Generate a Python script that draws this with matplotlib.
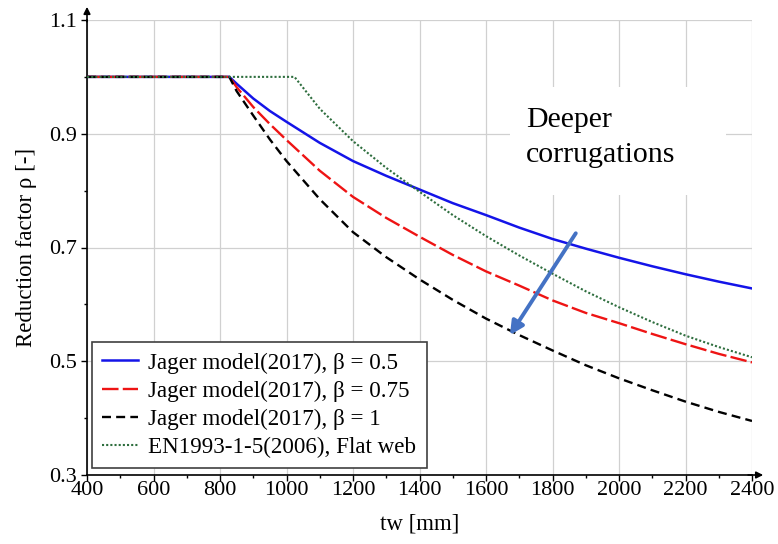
import matplotlib
matplotlib.use("Agg")
import matplotlib.pyplot as plt
from matplotlib.patches import Rectangle
from matplotlib.ticker import MultipleLocator

plt.rcParams['font.family'] = ['Liberation Serif', 'DejaVu Serif']
plt.rcParams['mathtext.fontset'] = 'stix'

# Web thickness tw [mm] and reduction factor rho for each model
tw_jager = [400, 828, 850, 900, 950, 1000, 1100, 1200, 1300, 1400, 1500, 1600,
            1700, 1800, 1900, 2000, 2100, 2200, 2300, 2400]
rho_b050 = [1.000, 1.000, 0.988, 0.962, 0.940, 0.921, 0.884, 0.852, 0.826, 0.802,
            0.778, 0.757, 0.735, 0.715, 0.698, 0.682, 0.667, 0.653, 0.640, 0.628]
rho_b075 = [1.000, 1.000, 0.982, 0.947, 0.917, 0.889, 0.835, 0.789, 0.752, 0.719,
            0.687, 0.658, 0.633, 0.607, 0.585, 0.567, 0.548, 0.530, 0.513, 0.498]
rho_b100 = [1.000, 1.000, 0.975, 0.932, 0.890, 0.852, 0.785, 0.727, 0.683, 0.644,
            0.608, 0.575, 0.546, 0.519, 0.493, 0.470, 0.449, 0.429, 0.411, 0.395]

tw_en = [400, 1024, 1100, 1200, 1300, 1400, 1500, 1600, 1700, 1800, 1900, 2000,
         2100, 2200, 2300, 2400]
rho_en = [1.000, 1.000, 0.944, 0.887, 0.840, 0.798, 0.757, 0.720, 0.686, 0.654,
          0.623, 0.595, 0.569, 0.545, 0.525, 0.507]

labels = ["Jager model(2017), β = 0.5",
          "Jager model(2017), β = 0.75",
          "Jager model(2017), β = 1",
          "EN1993-1-5(2006), Flat web"]

x_ticks = [400, 600, 800, 1000, 1200, 1400, 1600, 1800, 2000, 2200, 2400]
y_ticks = [0.3, 0.5, 0.7, 0.9, 1.1]
y_tick_labels = ["0.3", "0.5", "0.7", "0.9", "1.1"]

fig = plt.figure(figsize=(7.78, 5.44), dpi=100)
ax = fig.add_axes([87 / 778, 1 - 475 / 544, 665 / 778, 455 / 544])

ax.plot(tw_jager, rho_b050, color='#1414e8', lw=1.8, label=labels[0], zorder=3)
ax.plot(tw_jager, rho_b075, color='#ee1414', lw=1.7, ls=(0, (7, 1.8)), label=labels[1], zorder=3)
ax.plot(tw_jager, rho_b100, color='black', lw=1.7, ls=(0, (3.8, 2.2)), label=labels[2], zorder=3)
ax.plot(tw_en, rho_en, color='#2e6e3e', lw=1.5, ls=(0, (1, 1)), label=labels[3], zorder=3)

ax.set_xlim(400, 2400)
ax.set_ylim(0.3, 1.1)
ax.set_xticks(x_ticks)
ax.set_yticks(y_ticks)
ax.set_yticklabels(y_tick_labels)
ax.xaxis.set_minor_locator(MultipleLocator(100))
ax.yaxis.set_minor_locator(MultipleLocator(0.1))
ax.tick_params(axis='x', which='major', direction='out', length=4, width=1, pad=0, labelsize=16)
ax.tick_params(axis='x', which='minor', direction='out', length=2.5, width=1)
ax.tick_params(axis='y', which='major', direction='out', length=4, width=1, pad=3, labelsize=16)
ax.tick_params(axis='y', which='minor', direction='out', length=2.5, width=1)

ax.grid(True, which='major', color='#d0d0d0', lw=0.9, zorder=0)
ax.set_axisbelow(True)
for side in ('top', 'right'):
    ax.spines[side].set_visible(False)
for side in ('left', 'bottom'):
    ax.spines[side].set_linewidth(1.2)
    ax.spines[side].set_color('black')

# Arrow heads on the axes
ax.annotate('', xy=(0, 1.035), xytext=(0, 0.99), xycoords='axes fraction',
            arrowprops=dict(arrowstyle='-|>', color='black', lw=1.2,
                            mutation_scale=10), annotation_clip=False)
ax.annotate('', xy=(1.021, 0), xytext=(0.99, 0), xycoords='axes fraction',
            arrowprops=dict(arrowstyle='-|>', color='black', lw=1.2,
                            mutation_scale=10), annotation_clip=False)

ax.set_xlabel("tw [mm]", fontsize=16.5, labelpad=10)
ax.set_ylabel("Reduction factor ρ [-]", fontsize=16.5, labelpad=9)

# White panel behind the annotation text
ax.add_patch(Rectangle((1672, 0.7925), 651, 0.19, facecolor='white',
                       edgecolor='none', zorder=1))
ax.text(1720, 0.894, "Deeper\ncorrugations", fontsize=21.5, ha='left', va='center',
        linespacing=1.45, zorder=2)
ax.annotate('', xy=(1672, 0.546), xytext=(1870, 0.725),
            arrowprops=dict(arrowstyle='-|>', color='#4472c4', lw=2.8,
                            mutation_scale=20, shrinkA=0, shrinkB=0), zorder=4)

leg = ax.legend(loc='lower left', bbox_to_anchor=(0.0075, 0.015), borderaxespad=0,
                fontsize=16.6, frameon=True, fancybox=False, framealpha=1,
                edgecolor='#404040', handlelength=1.55, handletextpad=0.45,
                labelspacing=0.3, borderpad=0.45)
leg.get_frame().set_linewidth(1.2)
leg.set_zorder(5)

fig.savefig("out.png", dpi=100)
